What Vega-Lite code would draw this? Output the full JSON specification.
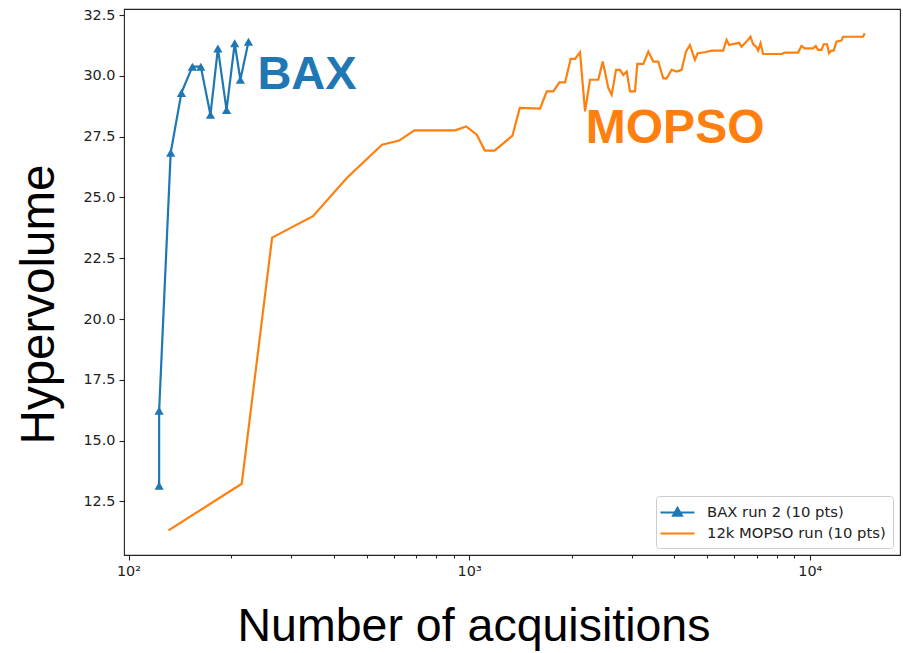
{
  "$schema": "https://vega.github.io/schema/vega-lite/v6.json",
  "width": 776,
  "height": 546,
  "autosize": {"type": "none"},
  "padding": {"left": 124, "top": 9, "right": 3, "bottom": 98},
  "background": "white",
  "config": {
    "view": {"stroke": "#222", "strokeWidth": 1.1},
    "font": "DejaVu Sans",
    "axis": {
      "grid": false,
      "domain": false,
      "tickColor": "#222",
      "tickWidth": 1.1,
      "labelColor": "#222",
      "labelFont": "DejaVu Sans",
      "labelFontSize": 14.4,
      "titleFont": "Liberation Sans",
      "titleFontWeight": "normal",
      "titleFontSize": 46,
      "titleColor": "#000"
    }
  },
  "datasets": {
    "runs": [
      {"run": "BAX run 2 (10 pts)", "i": 1, "n": 123, "hv": 13.15},
      {"run": "BAX run 2 (10 pts)", "i": 2, "n": 123, "hv": 16.23},
      {"run": "BAX run 2 (10 pts)", "i": 3, "n": 133, "hv": 26.84},
      {"run": "BAX run 2 (10 pts)", "i": 4, "n": 143, "hv": 29.3},
      {"run": "BAX run 2 (10 pts)", "i": 5, "n": 154, "hv": 30.38},
      {"run": "BAX run 2 (10 pts)", "i": 6, "n": 163, "hv": 30.38},
      {"run": "BAX run 2 (10 pts)", "i": 7, "n": 174, "hv": 28.4},
      {"run": "BAX run 2 (10 pts)", "i": 8, "n": 183, "hv": 31.13},
      {"run": "BAX run 2 (10 pts)", "i": 9, "n": 194, "hv": 28.6},
      {"run": "BAX run 2 (10 pts)", "i": 10, "n": 205, "hv": 31.34},
      {"run": "BAX run 2 (10 pts)", "i": 11, "n": 213, "hv": 29.84},
      {"run": "BAX run 2 (10 pts)", "i": 12, "n": 225, "hv": 31.4},
      {"run": "12k MOPSO run (10 pts)", "i": 1, "n": 131, "hv": 11.31},
      {"run": "12k MOPSO run (10 pts)", "i": 2, "n": 215, "hv": 13.23},
      {"run": "12k MOPSO run (10 pts)", "i": 3, "n": 264, "hv": 23.35},
      {"run": "12k MOPSO run (10 pts)", "i": 4, "n": 348, "hv": 24.23},
      {"run": "12k MOPSO run (10 pts)", "i": 5, "n": 438, "hv": 25.81},
      {"run": "12k MOPSO run (10 pts)", "i": 6, "n": 555, "hv": 27.17},
      {"run": "12k MOPSO run (10 pts)", "i": 7, "n": 623, "hv": 27.34},
      {"run": "12k MOPSO run (10 pts)", "i": 8, "n": 691, "hv": 27.76},
      {"run": "12k MOPSO run (10 pts)", "i": 9, "n": 910, "hv": 27.76},
      {"run": "12k MOPSO run (10 pts)", "i": 10, "n": 980, "hv": 27.92},
      {"run": "12k MOPSO run (10 pts)", "i": 11, "n": 1053, "hv": 27.58},
      {"run": "12k MOPSO run (10 pts)", "i": 12, "n": 1112, "hv": 26.93},
      {"run": "12k MOPSO run (10 pts)", "i": 13, "n": 1187, "hv": 26.93},
      {"run": "12k MOPSO run (10 pts)", "i": 14, "n": 1340, "hv": 27.54},
      {"run": "12k MOPSO run (10 pts)", "i": 15, "n": 1408, "hv": 28.68},
      {"run": "12k MOPSO run (10 pts)", "i": 16, "n": 1615, "hv": 28.65},
      {"run": "12k MOPSO run (10 pts)", "i": 17, "n": 1690, "hv": 29.36},
      {"run": "12k MOPSO run (10 pts)", "i": 18, "n": 1767, "hv": 29.36},
      {"run": "12k MOPSO run (10 pts)", "i": 19, "n": 1840, "hv": 29.73},
      {"run": "12k MOPSO run (10 pts)", "i": 20, "n": 1912, "hv": 29.73},
      {"run": "12k MOPSO run (10 pts)", "i": 21, "n": 1987, "hv": 30.7},
      {"run": "12k MOPSO run (10 pts)", "i": 22, "n": 2046, "hv": 30.7},
      {"run": "12k MOPSO run (10 pts)", "i": 23, "n": 2116, "hv": 30.97},
      {"run": "12k MOPSO run (10 pts)", "i": 24, "n": 2189, "hv": 28.54},
      {"run": "12k MOPSO run (10 pts)", "i": 25, "n": 2264, "hv": 29.84},
      {"run": "12k MOPSO run (10 pts)", "i": 26, "n": 2394, "hv": 29.84},
      {"run": "12k MOPSO run (10 pts)", "i": 27, "n": 2467, "hv": 30.59},
      {"run": "12k MOPSO run (10 pts)", "i": 28, "n": 2562, "hv": 29.5},
      {"run": "12k MOPSO run (10 pts)", "i": 29, "n": 2621, "hv": 29.22},
      {"run": "12k MOPSO run (10 pts)", "i": 30, "n": 2699, "hv": 30.25},
      {"run": "12k MOPSO run (10 pts)", "i": 31, "n": 2772, "hv": 30.25},
      {"run": "12k MOPSO run (10 pts)", "i": 32, "n": 2835, "hv": 30.04},
      {"run": "12k MOPSO run (10 pts)", "i": 33, "n": 2901, "hv": 30.18},
      {"run": "12k MOPSO run (10 pts)", "i": 34, "n": 2966, "hv": 29.36},
      {"run": "12k MOPSO run (10 pts)", "i": 35, "n": 3068, "hv": 29.36},
      {"run": "12k MOPSO run (10 pts)", "i": 36, "n": 3116, "hv": 30.49},
      {"run": "12k MOPSO run (10 pts)", "i": 37, "n": 3245, "hv": 30.49},
      {"run": "12k MOPSO run (10 pts)", "i": 38, "n": 3357, "hv": 31.0},
      {"run": "12k MOPSO run (10 pts)", "i": 39, "n": 3472, "hv": 30.59},
      {"run": "12k MOPSO run (10 pts)", "i": 40, "n": 3591, "hv": 30.59},
      {"run": "12k MOPSO run (10 pts)", "i": 41, "n": 3714, "hv": 29.9},
      {"run": "12k MOPSO run (10 pts)", "i": 42, "n": 3800, "hv": 29.9},
      {"run": "12k MOPSO run (10 pts)", "i": 43, "n": 3930, "hv": 30.25},
      {"run": "12k MOPSO run (10 pts)", "i": 44, "n": 4065, "hv": 30.18},
      {"run": "12k MOPSO run (10 pts)", "i": 45, "n": 4205, "hv": 30.25},
      {"run": "12k MOPSO run (10 pts)", "i": 46, "n": 4329, "hv": 31.0},
      {"run": "12k MOPSO run (10 pts)", "i": 47, "n": 4447, "hv": 31.27},
      {"run": "12k MOPSO run (10 pts)", "i": 48, "n": 4600, "hv": 30.66},
      {"run": "12k MOPSO run (10 pts)", "i": 49, "n": 4685, "hv": 30.93},
      {"run": "12k MOPSO run (10 pts)", "i": 50, "n": 4921, "hv": 30.97},
      {"run": "12k MOPSO run (10 pts)", "i": 51, "n": 5149, "hv": 31.04},
      {"run": "12k MOPSO run (10 pts)", "i": 52, "n": 5569, "hv": 31.04},
      {"run": "12k MOPSO run (10 pts)", "i": 53, "n": 5698, "hv": 31.48},
      {"run": "12k MOPSO run (10 pts)", "i": 54, "n": 5799, "hv": 31.27},
      {"run": "12k MOPSO run (10 pts)", "i": 55, "n": 5958, "hv": 31.31},
      {"run": "12k MOPSO run (10 pts)", "i": 56, "n": 6204, "hv": 31.36},
      {"run": "12k MOPSO run (10 pts)", "i": 57, "n": 6304, "hv": 31.2},
      {"run": "12k MOPSO run (10 pts)", "i": 58, "n": 6520, "hv": 31.41},
      {"run": "12k MOPSO run (10 pts)", "i": 59, "n": 6699, "hv": 31.61},
      {"run": "12k MOPSO run (10 pts)", "i": 60, "n": 6817, "hv": 31.31},
      {"run": "12k MOPSO run (10 pts)", "i": 61, "n": 6976, "hv": 31.18},
      {"run": "12k MOPSO run (10 pts)", "i": 62, "n": 7052, "hv": 31.04},
      {"run": "12k MOPSO run (10 pts)", "i": 63, "n": 7167, "hv": 31.34},
      {"run": "12k MOPSO run (10 pts)", "i": 64, "n": 7294, "hv": 30.9},
      {"run": "12k MOPSO run (10 pts)", "i": 65, "n": 8260, "hv": 30.9},
      {"run": "12k MOPSO run (10 pts)", "i": 66, "n": 8446, "hv": 30.96},
      {"run": "12k MOPSO run (10 pts)", "i": 67, "n": 9241, "hv": 30.96},
      {"run": "12k MOPSO run (10 pts)", "i": 68, "n": 9454, "hv": 31.23},
      {"run": "12k MOPSO run (10 pts)", "i": 69, "n": 9667, "hv": 31.13},
      {"run": "12k MOPSO run (10 pts)", "i": 70, "n": 10226, "hv": 31.13},
      {"run": "12k MOPSO run (10 pts)", "i": 71, "n": 10414, "hv": 31.23},
      {"run": "12k MOPSO run (10 pts)", "i": 72, "n": 10576, "hv": 31.07},
      {"run": "12k MOPSO run (10 pts)", "i": 73, "n": 10822, "hv": 31.07},
      {"run": "12k MOPSO run (10 pts)", "i": 74, "n": 10993, "hv": 31.3},
      {"run": "12k MOPSO run (10 pts)", "i": 75, "n": 11238, "hv": 31.3},
      {"run": "12k MOPSO run (10 pts)", "i": 76, "n": 11392, "hv": 30.93},
      {"run": "12k MOPSO run (10 pts)", "i": 77, "n": 11577, "hv": 31.04},
      {"run": "12k MOPSO run (10 pts)", "i": 78, "n": 11760, "hv": 31.04},
      {"run": "12k MOPSO run (10 pts)", "i": 79, "n": 11975, "hv": 31.41},
      {"run": "12k MOPSO run (10 pts)", "i": 80, "n": 12388, "hv": 31.45},
      {"run": "12k MOPSO run (10 pts)", "i": 81, "n": 12522, "hv": 31.61},
      {"run": "12k MOPSO run (10 pts)", "i": 82, "n": 14335, "hv": 31.61},
      {"run": "12k MOPSO run (10 pts)", "i": 83, "n": 14500, "hv": 31.75}
    ],
    "labels": [
      {"label": "BAX", "n": 239, "hv": 29.45},
      {"label": "MOPSO", "n": 2200, "hv": 27.22}
    ]
  },
  "layer": [
    {
      "data": {"name": "runs"},
      "transform": [{"filter": "datum.run === 'BAX run 2 (10 pts)'"}],
      "mark": {"type": "line", "strokeWidth": 2.2, "point": {"shape": "triangle-up", "size": 85, "filled": true}},
      "encoding": {
        "x": {
          "field": "n", "type": "quantitative",
          "scale": {"type": "log", "domain": [97, 18400], "nice": false},
          "axis": {
            "orient": "bottom",
            "values": [100, 1000, 10000],
            "labelExpr": "datum.value == 100 ? '10²' : datum.value == 1000 ? '10³' : '10⁴'",
            "tickSize": 5,
            "labelPadding": 4,
            "title": "Number of acquisitions",
            "titleFontSize": 46.5,
            "titleX": 349.5,
            "titleY": 85,
            "titleAlign": "center",
            "titleBaseline": "alphabetic"
          }
        },
        "y": {
          "field": "hv", "type": "quantitative",
          "scale": {"domain": [10.3, 32.75], "nice": false, "zero": false},
          "axis": {
            "orient": "left",
            "values": [12.5, 15, 17.5, 20, 22.5, 25, 27.5, 30, 32.5],
            "format": ".1f",
            "tickSize": 5,
            "labelPadding": 4,
            "title": "Hypervolume",
            "titleFontSize": 47.5,
            "titleX": -71,
            "titleY": 295,
            "titleAngle": -90,
            "titleAlign": "center",
            "titleBaseline": "alphabetic"
          }
        },
        "order": {"field": "i", "type": "quantitative"},
        "color": {
          "field": "run", "type": "nominal",
          "scale": {"domain": ["BAX run 2 (10 pts)", "12k MOPSO run (10 pts)"], "range": ["#1f77b4", "#ff7f0e"]},
          "legend": {
            "title": null,
            "orient": "bottom-right",
            "offset": 7,
            "padding": 7,
            "strokeColor": "#cccccc",
            "fillColor": "rgba(255,255,255,0.85)",
            "cornerRadius": 3,
            "labelFont": "DejaVu Sans",
            "labelFontSize": 14.8,
            "labelColor": "#222",
            "labelLimit": 400,
            "symbolSize": 256,
            "symbolOffset": 5,
            "labelOffset": 20,
            "rowPadding": 4,
            "encode": {
              "symbols": {
                "update": {
                  "shape": {"signal": "datum.value === 'BAX run 2 (10 pts)' ? 'M-2.125,0L2.125,0M-0.54,0.38L0,-0.56L0.54,0.38Z' : 'M-2.125,0L2.125,0'"},
                  "fill": {"scale": "color", "field": "value"},
                  "stroke": {"scale": "color", "field": "value"},
                  "strokeWidth": {"value": 2.2},
                  "opacity": {"value": 1}
                }
              }
            }
          }
        }
      }
    },
    {
      "data": {"name": "runs"},
      "transform": [{"filter": "datum.run === '12k MOPSO run (10 pts)'"}],
      "mark": {"type": "line", "strokeWidth": 2.2},
      "encoding": {
        "x": {
          "field": "n", "type": "quantitative",
          "scale": {"type": "log", "domain": [97, 18400], "nice": false},
          "axis": {
            "orient": "bottom",
            "values": [200, 300, 400, 500, 600, 700, 800, 900, 2000, 3000, 4000, 5000, 6000, 7000, 8000, 9000],
            "labels": false,
            "tickSize": 3,
            "title": null
          }
        },
        "y": {"field": "hv", "type": "quantitative", "axis": null},
        "order": {"field": "i", "type": "quantitative"},
        "color": {"field": "run", "type": "nominal"}
      }
    },
    {
      "data": {"name": "labels"},
      "transform": [{"filter": "datum.label === 'BAX'"}],
      "mark": {"type": "text", "font": "Liberation Sans", "fontWeight": "bold", "fontSize": 47, "align": "left", "baseline": "alphabetic", "color": "#1f77b4"},
      "encoding": {
        "x": {"field": "n", "type": "quantitative", "axis": null},
        "y": {"field": "hv", "type": "quantitative", "axis": null},
        "text": {"field": "label"}
      }
    },
    {
      "data": {"name": "labels"},
      "transform": [{"filter": "datum.label === 'MOPSO'"}],
      "mark": {"type": "text", "font": "Liberation Sans", "fontWeight": "bold", "fontSize": 48, "align": "left", "baseline": "alphabetic", "color": "#ff7f0e"},
      "encoding": {
        "x": {"field": "n", "type": "quantitative", "axis": null},
        "y": {"field": "hv", "type": "quantitative", "axis": null},
        "text": {"field": "label"}
      }
    }
  ],
  "resolve": {"axis": {"x": "independent", "y": "independent"}}
}
